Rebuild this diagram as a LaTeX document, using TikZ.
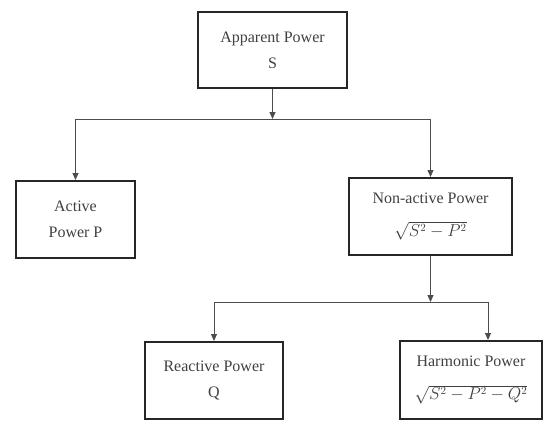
\documentclass[tikz,border=0pt]{standalone}
\usepackage{fontspec}
\setmainfont{Liberation Serif}
\usetikzlibrary{arrows.meta}

\begin{document}
\begin{tikzpicture}[x=1pt, y=-1pt, >={Triangle[length=7pt, width=6pt]},
  pbox/.style={draw=black!85, line width=2pt, fill=white, align=center, inner sep=0pt,
    font=\fontsize{16}{26}\selectfont, text=black!75},
  link/.style={line width=1pt, draw=black!70}]
\useasboundingbox (0,0) rectangle (548,421);
% apparent power (top)
\node[pbox, minimum width=149pt, minimum height=76pt] (app) at (272.5,50) {Apparent Power\\S};
% first split: active / non-active
\node[pbox, minimum width=119pt, minimum height=77pt] (act) at (75.5,219.5) {Active\\Power P};
\node[pbox, minimum width=163pt, minimum height=77pt] (non) at (430.5,216.5) {Non-active Power\\[7pt]$\sqrt{S^2-P^2}$};
\coordinate (s1) at (272.5,119);
\draw[link,->] (app) -- (s1);
\draw[link] (s1 -| act) -- (s1 -| non);
\draw[link,->] (s1 -| act) -- (act);
\draw[link,->] (s1 -| non) -- (non);
% second split: reactive / harmonic
\node[pbox, minimum width=138pt, minimum height=77pt] (rea) at (214,380.5) {Reactive Power\\Q};
\node[pbox, minimum width=142pt, minimum height=78pt] (har) at (471,380) {Harmonic Power\\[7pt]$\sqrt{S^2-P^2-Q^2}$};
\coordinate (s2) at (430.5,302);
\coordinate (s3) at (488,302);
\draw[link,->] (non) -- (s2);
\draw[link] (s2 -| rea) -- (s3);
\draw[link,->] (s2 -| rea) -- (rea);
\draw[link,->] (s3) -- (s3 |- har.north);
\end{tikzpicture}
\end{document}
